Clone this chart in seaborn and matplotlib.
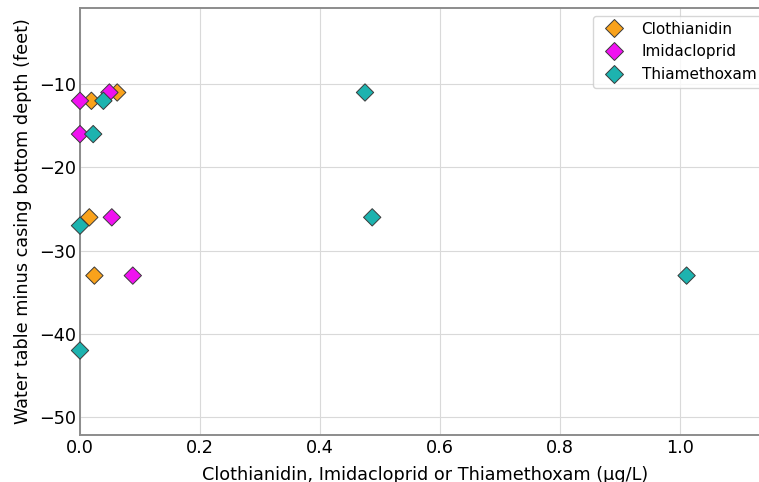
import matplotlib
matplotlib.use("Agg")
import matplotlib.pyplot as plt
import seaborn as sns
import pandas as pd

# Data
clothianidin_x = [0.062, 0.019, 0.0155, 0.024]
clothianidin_y = [-11, -12, -26, -33]
imidacloprid_x = [0.0, 0.0, 0.049, 0.053, 0.088]
imidacloprid_y = [-12, -16, -11, -26, -33]
thiamethoxam_x = [0.039, 0.022, 0.0, 0.0, 0.475, 0.487, 1.011]
thiamethoxam_y = [-12, -16, -27, -42, -11, -26, -33]
compounds = ["Clothianidin", "Imidacloprid", "Thiamethoxam"]
colors = ["#F9A21B", "#F012F0", "#1DB3AF"]
y_ticks = [-10, -20, -30, -40, -50]
x_ticks = [0.0, 0.2, 0.4, 0.6, 0.8, 1.0]

df = pd.DataFrame({
    "conc": clothianidin_x + imidacloprid_x + thiamethoxam_x,
    "depth": clothianidin_y + imidacloprid_y + thiamethoxam_y,
    "Compound": [compounds[0]] * len(clothianidin_x)
    + [compounds[1]] * len(imidacloprid_x)
    + [compounds[2]] * len(thiamethoxam_x),
})

sns.set_style("white")
plt.rcParams["font.family"] = ["DejaVu Sans"]
plt.rcParams["text.color"] = "black"
plt.rcParams["axes.labelcolor"] = "black"

fig = plt.figure(figsize=(7.59, 4.82), dpi=100)
ax = fig.add_axes([80 / 759, 1 - 435 / 482, 690 / 759, 427 / 482])

sns.scatterplot(data=df, x="conc", y="depth", hue="Compound",
                hue_order=compounds, palette=dict(zip(compounds, colors)),
                marker="D", s=78, edgecolor="#3a3a3a", linewidth=0.7,
                ax=ax, zorder=3, clip_on=False)

ax.set_xlim(0, 1.15)
ax.set_ylim(-52.15, -0.85)
ax.set_xticks(x_ticks)
ax.set_yticks(y_ticks)
ax.grid(True, color="#d9d9d9", linewidth=0.8)
ax.set_axisbelow(True)
for side, sp in ax.spines.items():
    sp.set_color("#8c8c8c")
    sp.set_linewidth(1.4)
ax.tick_params(axis="both", length=0, pad=3, labelsize=12.7, colors="black")

ax.set_xlabel("Clothianidin, Imidacloprid or Thiamethoxam (\u00b5g/L)", fontsize=12.7, labelpad=6)
ax.set_ylabel("Water table minus casing bottom depth (feet)", fontsize=12.7, labelpad=5)

handles, labels = ax.get_legend_handles_labels()
for h in handles:
    h.set_markersize(9.5)
ax.legend(handles, labels, loc="upper right", fontsize=11, frameon=True)

fig.savefig("out.png", dpi=100)
